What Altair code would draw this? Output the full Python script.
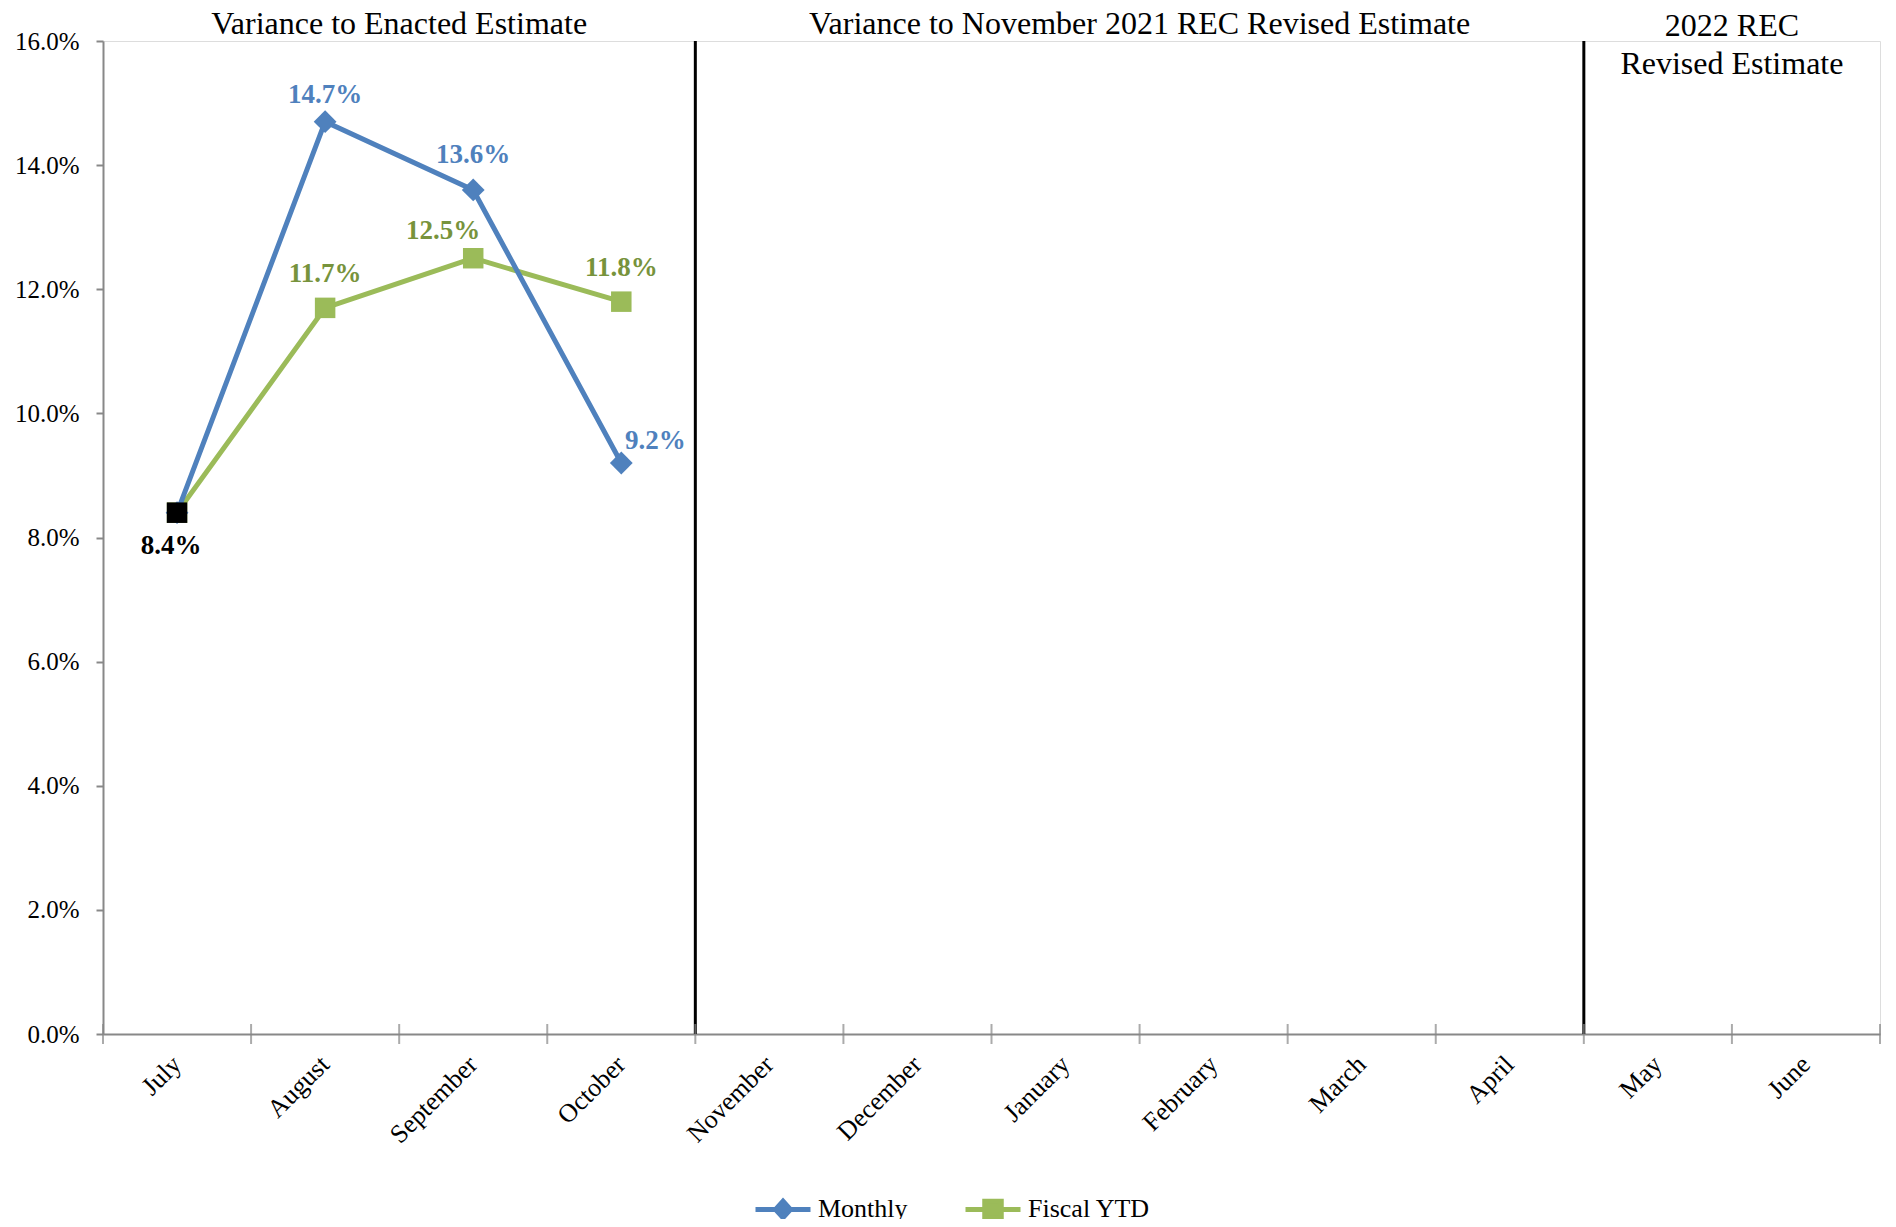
import altair as alt
import pandas as pd

# ---------------- data ----------------
months = ["July", "August", "September", "October", "November", "December",
          "January", "February", "March", "April", "May", "June"]
series_names = ["Monthly", "Fiscal YTD"]
monthly = [8.4, 14.7, 13.6, 9.2]
fiscal_ytd = [8.4, 11.7, 12.5, 11.8]
y_ticks = [0, 2, 4, 6, 8, 10, 12, 14, 16]
section_titles = ["Variance to Enacted Estimate",
                  "Variance to November 2021 REC Revised Estimate",
                  "Variance to May\n2022 REC\nRevised Estimate"]
section_anchor_months = ["September", "February", "June"]  # centre = start of this month's band
section_breaks = ["November", "May"]

BLUE = "#4F81BD"
GREEN = "#9BBB59"
GREEN_TXT = "#77933C"
AXIS_GREY = "#888888"
FONT = "Liberation Serif"
W, H = 1777, 993

rows = []
for m, v in zip(months, monthly):
    rows.append({"month": m, "series": "Monthly", "value": v, "label": f"{v:.1f}%"})
for m, v in zip(months, fiscal_ytd):
    rows.append({"month": m, "series": "Fiscal YTD", "value": v, "label": f"{v:.1f}%"})
df = pd.DataFrame(rows)
months_df = pd.DataFrame({"month": months})
breaks_df = pd.DataFrame({"month": section_breaks})
titles_df = pd.DataFrame({"title": section_titles, "month": section_anchor_months})

xscale = alt.Scale(domain=months, paddingInner=0, paddingOuter=0)
yscale = alt.Scale(domain=[0, 16], nice=False, zero=True)

x_axis = alt.Axis(title=None, ticks=False, tickSize=0, labelAngle=-45, labelAlign="right",
                  labelBaseline="middle", labelPadding=26, labelFont=FONT, labelFontSize=26,
                  labelColor="black", domainColor=AXIS_GREY, domainWidth=2, grid=False)
y_axis = alt.Axis(title=None, values=y_ticks, labelExpr="format(datum.value, '.1f') + '%'",
                  tickSize=7, tickColor=AXIS_GREY, tickWidth=2, labelPadding=17,
                  labelFont=FONT, labelFontSize=25, labelColor="black",
                  domainColor=AXIS_GREY, domainWidth=2, grid=False)


def xenc(bp=None):
    if bp is None:
        return alt.X("month:N", scale=xscale, sort=months, axis=x_axis)
    return alt.X("month:N", scale=xscale, sort=months, axis=x_axis, bandPosition=bp)


def yenc():
    return alt.Y("value:Q", scale=yscale, axis=y_axis)


def sel(series, months_list):
    ms = ",".join(f"'{m}'" for m in months_list)
    return f"datum.series == '{series}' && indexof([{ms}], datum.month) >= 0"


base = alt.Chart(df)

# separators
separators = alt.Chart(breaks_df).mark_rule(color="black", strokeWidth=3).encode(
    x=xenc(0),
    y=alt.Y(datum=16, type="quantitative", scale=yscale, axis=y_axis),
    y2=alt.Y2(datum=0),
)

# crossing ticks on x axis
ticks_a = alt.Chart(months_df).mark_tick(orient="vertical", size=20, thickness=2,
                                          color=AXIS_GREY).encode(
    x=xenc(0), y=alt.Y(datum=0, type="quantitative", scale=yscale, axis=y_axis))
ticks_b = alt.Chart(months_df).transform_filter("datum.month == 'June'").mark_tick(
    orient="vertical", size=20, thickness=2, color=AXIS_GREY).encode(
    x=xenc(1), y=alt.Y(datum=0, type="quantitative", scale=yscale, axis=y_axis))

LW = 5
green_line = base.transform_filter("datum.series == 'Fiscal YTD'").mark_line(
    color=GREEN, strokeWidth=LW).encode(x=xenc(), y=yenc())
green_pts = base.transform_filter("datum.series == 'Fiscal YTD'").mark_point(
    shape="square", filled=True, size=420, color=GREEN, opacity=1).encode(x=xenc(), y=yenc())
blue_line = base.transform_filter("datum.series == 'Monthly'").mark_line(
    color=BLUE, strokeWidth=LW).encode(x=xenc(), y=yenc())
blue_pts = base.transform_filter("datum.series == 'Monthly'").mark_point(
    shape="diamond", filled=True, size=520, color=BLUE, opacity=1).encode(x=xenc(), y=yenc())
july_pt = base.transform_filter(sel("Fiscal YTD", ["July"])).mark_point(
    shape="square", filled=True, size=420, color="black", opacity=1).encode(x=xenc(), y=yenc())

# legend (drawn from a data-less layer with shape/fill/stroke scales)
path_monthly = "M-1,0L1,0M0,-0.3L0.27,0L0,0.3L-0.27,0Z"
path_fytd = "M-1,0L1,0M-0.3,-0.3L0.3,-0.3L0.3,0.3L-0.3,0.3Z"
legend_def = alt.Legend(title=None, orient="none", legendX=650, legendY=1138,
                        direction="horizontal", labelFont=FONT, labelFontSize=26,
                        labelColor="black", symbolSize=3025, symbolStrokeWidth=LW,
                        columnPadding=47, labelOffset=5, symbolOpacity=1)
legend_layer = base.transform_filter("datum.month == 'none'").mark_point(
    filled=True, size=3025, strokeWidth=LW, opacity=1).encode(
    x=xenc(), y=yenc(),
    shape=alt.Shape("series:N", scale=alt.Scale(domain=series_names, range=[path_monthly, path_fytd]),
                    legend=legend_def),
    fill=alt.Fill("series:N", scale=alt.Scale(domain=series_names, range=[BLUE, GREEN]),
                  legend=legend_def),
    stroke=alt.Stroke("series:N", scale=alt.Scale(domain=series_names, range=[BLUE, GREEN]),
                      legend=legend_def),
)

lab_font = dict(font=FONT, fontSize=27, fontWeight="bold")
t_blue_aug = base.transform_filter(sel("Monthly", ["August"])).mark_text(
    color=BLUE, dy=-27, **lab_font).encode(x=xenc(), y=yenc(), text="label:N")
t_blue_sep = base.transform_filter(sel("Monthly", ["September"])).mark_text(
    color=BLUE, dy=-35, **lab_font).encode(x=xenc(), y=yenc(), text="label:N")
t_blue_oct = base.transform_filter(sel("Monthly", ["October"])).mark_text(
    color=BLUE, dx=34, dy=-22, **lab_font).encode(x=xenc(), y=yenc(), text="label:N")
t_green_above = base.transform_filter(sel("Fiscal YTD", ["August", "October"])).mark_text(
    color=GREEN_TXT, dy=-34, **lab_font).encode(x=xenc(), y=yenc(), text="label:N")
t_green_sep = base.transform_filter(sel("Fiscal YTD", ["September"])).mark_text(
    color=GREEN_TXT, dx=-30, dy=-27, **lab_font).encode(x=xenc(), y=yenc(), text="label:N")
t_july = base.transform_filter(sel("Fiscal YTD", ["July"])).mark_text(
    color="black", dx=-6, dy=33, **lab_font).encode(x=xenc(), y=yenc(), text="label:N")

titles_single = alt.Chart(titles_df).transform_filter(
    f"datum.month == '{section_anchor_months[0]}' || datum.month == '{section_anchor_months[1]}'"
).mark_text(font=FONT, fontSize=32, color="black", baseline="middle").encode(
    x=xenc(0), y=alt.value(-17), text="title:N")
title_multi = alt.Chart(titles_df).transform_filter(
    f"datum.month == '{section_anchor_months[2]}'"
).mark_text(font=FONT, fontSize=32, color="black", baseline="middle", lineBreak="\n",
            lineHeight=38).encode(x=xenc(0), y=alt.value(-53), text="title:N")

chart = alt.layer(
    separators, ticks_a, ticks_b, green_line, green_pts, blue_line, blue_pts, july_pt,
    legend_layer, t_blue_aug, t_blue_sep, t_blue_oct, t_green_above, t_green_sep, t_july,
    titles_single, title_multi,
).properties(
    width=W, height=H,
    autosize=alt.AutoSizeParams(type="none"),
    padding={"left": 95, "top": 33, "right": 8, "bottom": 185},
).configure_view(stroke=None).configure(background="white")

chart.save("out.html", embed_options={"renderer": "svg", "actions": False})
